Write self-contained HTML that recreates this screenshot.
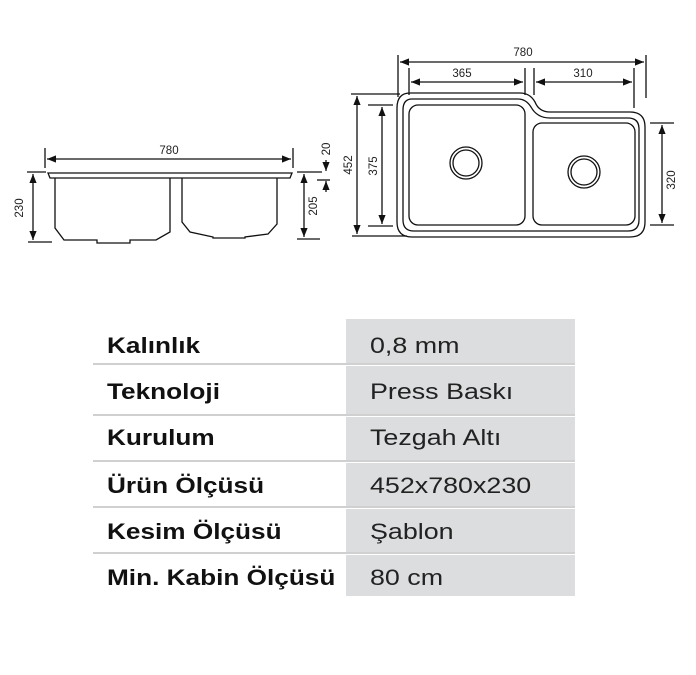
<!DOCTYPE html>
<html><head><meta charset="utf-8"><style>
html,body{margin:0;padding:0;background:#fff;}
body{width:696px;height:675px;position:relative;overflow:hidden;font-family:"Liberation Sans",sans-serif;}
.g{position:absolute;left:346px;width:229px;background:#dcdddf;}
.sep{position:absolute;left:93px;width:482px;height:2px;background:#d0d0d0;}
.l{position:absolute;left:107px;font-weight:bold;font-size:22px;color:#111;line-height:26px;transform:scaleX(1.19);transform-origin:0 0;white-space:nowrap;}
.v{position:absolute;left:370px;font-size:22px;color:#222;line-height:26px;transform:scaleX(1.22);transform-origin:0 0;white-space:nowrap;}
</style></head><body>
<svg width="696" height="300" style="position:absolute;left:0;top:0" font-family="Liberation Sans, sans-serif" font-size="11" fill="none" stroke="#111">
<defs><marker id="a" viewBox="0 0 10 10" refX="10" refY="5" markerWidth="7" markerHeight="7" orient="auto-start-reverse"><path d="M0,1 L10,5 L0,9 z" fill="#111" stroke="none"/></marker></defs>
<g stroke-width="1.3">
<line x1="45" y1="148" x2="45" y2="168"/><line x1="293" y1="148" x2="293" y2="168"/>
<line x1="47" y1="159" x2="291" y2="159" marker-start="url(#a)" marker-end="url(#a)"/>
<path d="M48,173 H292 L290,178 H50 Z"/>
<path d="M55,178 V228 L64,240 H97 V243 H130 V240 H156 L170,232 V178"/>
<path d="M182,178 V222 L190,232 L213,237 V238 H245 V237 L268,234 L277,224 V178"/>
<line x1="27" y1="172" x2="46" y2="172"/><line x1="28" y1="242" x2="52" y2="242"/>
<line x1="33" y1="174" x2="33" y2="240" marker-start="url(#a)" marker-end="url(#a)"/>
<line x1="297" y1="172" x2="322" y2="172"/><line x1="297" y1="239" x2="320" y2="239"/>
<line x1="304" y1="174" x2="304" y2="237" marker-start="url(#a)" marker-end="url(#a)"/>
<line x1="317" y1="180" x2="330" y2="180"/>
<line x1="326" y1="160" x2="326" y2="171" marker-end="url(#a)"/>
<line x1="326" y1="192" x2="326" y2="181" marker-end="url(#a)"/>
</g>
<g stroke-width="1.3">
<path d="M410,93 H520 Q530,93 535,102 Q539,112 550,112 H630 Q645,112 645,127 V222 Q645,237 630,237 H412 Q397,237 397,222 V108 Q397,93 410,93 Z"/>
<path d="M412,99 H518 Q526,99 531,107 Q537,118 550,118 H628 Q639,118 639,129 V220 Q639,231 628,231 H414 Q403,231 403,220 V110 Q403,99 412,99 Z"/>
<rect x="409" y="105" width="116" height="120" rx="9"/>
<rect x="533" y="123" width="102" height="102" rx="9"/>
<circle cx="466" cy="163" r="16"/><circle cx="466" cy="163" r="13"/>
<circle cx="584" cy="172" r="16"/><circle cx="584" cy="172" r="13"/>
<line x1="398" y1="55" x2="398" y2="97"/><line x1="646" y1="55" x2="646" y2="98"/>
<line x1="400" y1="62" x2="644" y2="62" marker-start="url(#a)" marker-end="url(#a)"/>
<line x1="409" y1="68" x2="409" y2="95"/><line x1="525" y1="68" x2="525" y2="95"/>
<line x1="411" y1="82" x2="523" y2="82" marker-start="url(#a)" marker-end="url(#a)"/>
<line x1="534" y1="68" x2="534" y2="95"/><line x1="634" y1="68" x2="634" y2="108"/>
<line x1="536" y1="82" x2="632" y2="82" marker-start="url(#a)" marker-end="url(#a)"/>
<line x1="351" y1="94" x2="400" y2="94"/><line x1="352" y1="236" x2="407" y2="236"/>
<line x1="357" y1="96" x2="357" y2="234" marker-start="url(#a)" marker-end="url(#a)"/>
<line x1="368" y1="105" x2="393" y2="105"/><line x1="368" y1="226" x2="393" y2="226"/>
<line x1="382" y1="107" x2="382" y2="224" marker-start="url(#a)" marker-end="url(#a)"/>
<line x1="650" y1="123" x2="674" y2="123"/><line x1="650" y1="225" x2="674" y2="225"/>
<line x1="662" y1="125" x2="662" y2="223" marker-start="url(#a)" marker-end="url(#a)"/>
</g>
<g fill="#222" stroke="none" text-anchor="middle" font-size="11.5">
<text x="169" y="154">780</text>
<text x="523" y="56">780</text>
<text x="462" y="77">365</text>
<text x="583" y="77">310</text>
<text transform="translate(23,208) rotate(-90)">230</text>
<text transform="translate(317,206) rotate(-90)">205</text>
<text transform="translate(330,149) rotate(-90)">20</text>
<text transform="translate(352,165) rotate(-90)">452</text>
<text transform="translate(377,166) rotate(-90)">375</text>
<text transform="translate(675,180) rotate(-90)">320</text>
</g>
</svg>
<div class="g" style="top:319px;height:44px"></div>
<div class="g" style="top:366px;height:48px"></div>
<div class="g" style="top:417px;height:43px"></div>
<div class="g" style="top:463px;height:43px"></div>
<div class="g" style="top:509px;height:43px"></div>
<div class="g" style="top:555px;height:41px"></div>
<div class="sep" style="top:363px"></div>
<div class="sep" style="top:414px"></div>
<div class="sep" style="top:460px"></div>
<div class="sep" style="top:506px"></div>
<div class="sep" style="top:552px"></div>
<div class="l" style="top:333px">Kalınlık</div><div class="v" style="top:333px">0,8 mm</div>
<div class="l" style="top:379px">Teknoloji</div><div class="v" style="top:379px">Press Baskı</div>
<div class="l" style="top:425px">Kurulum</div><div class="v" style="top:425px">Tezgah Altı</div>
<div class="l" style="top:473px">Ürün Ölçüsü</div><div class="v" style="top:473px">452x780x230</div>
<div class="l" style="top:519px">Kesim Ölçüsü</div><div class="v" style="top:519px">Şablon</div>
<div class="l" style="top:565px">Min. Kabin Ölçüsü</div><div class="v" style="top:565px">80 cm</div>
</body></html>
